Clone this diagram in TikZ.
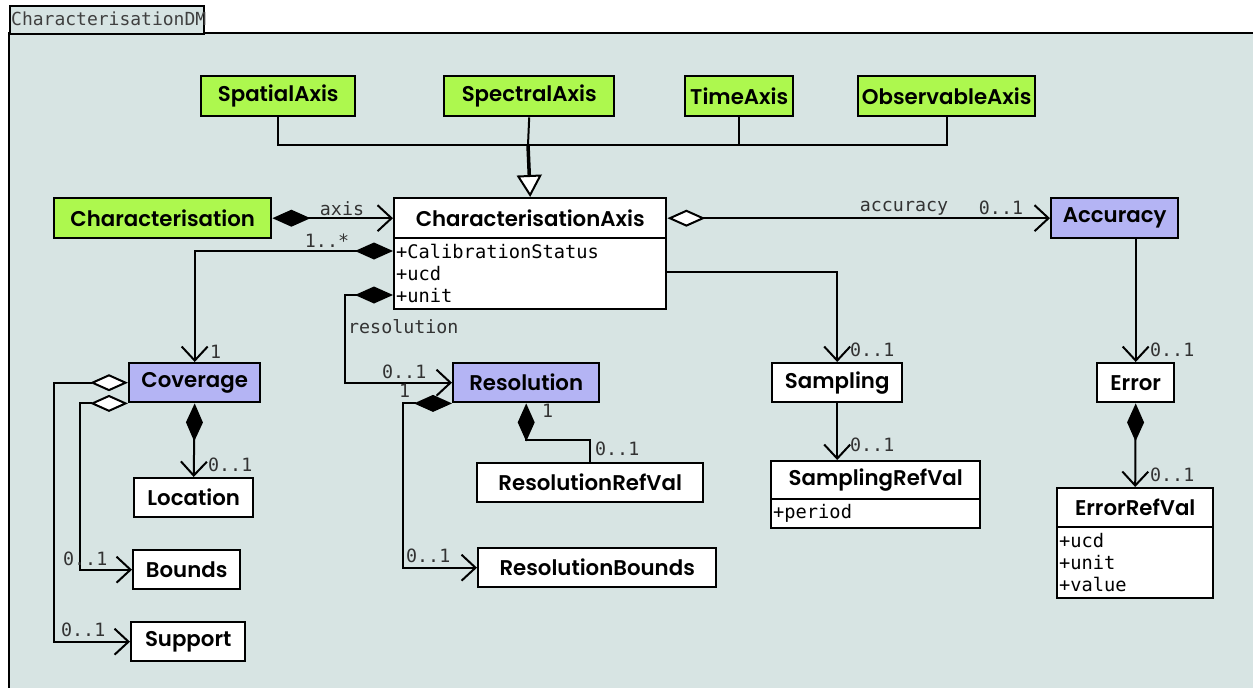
\documentclass[tikz,border=0pt]{standalone}
\usepackage{fontspec}
\usetikzlibrary{arrows.meta}
\IfFontExistsTF{Poppins SemiBold}{\newfontfamily\clsfont{Poppins SemiBold}}{\IfFontExistsTF{Poppins Medium}{\newfontfamily\clsfont{Poppins Medium}}{\newfontfamily\clsfont{Poppins}}}
\newfontfamily\monofnt{DejaVu Sans Mono}
\definecolor{bgc}{HTML}{D7E4E3}
\definecolor{limec}{HTML}{ADF84E}
\definecolor{lavc}{HTML}{B4B4F4}
\tikzset{
  cls/.style={draw, line width=2.4pt, fill=white, inner sep=0pt, anchor=north west,
    font=\clsfont\fontsize{21.3}{25}\selectfont},
  grn/.style={cls, fill=limec},
  lav/.style={cls, fill=lavc},
  attrbox/.style={draw, line width=2.4pt, fill=white, anchor=north west, inner xsep=2pt, inner ysep=0pt,
    align=left, font=\monofnt\fontsize{18.7}{22}\selectfont},
  lbl/.style={inner sep=0pt, text=black!80, font=\monofnt\fontsize{18.3}{20}\selectfont},
  conn/.style={line width=2pt},
  nav/.style={conn, -{Straight Barb[length=14pt,width=26pt]}},
  comp/.style={conn, {Kite[length=38pt,width=17pt,inset=19pt]}-{Straight Barb[length=14pt,width=26pt]}},
  compn/.style={conn, {Kite[length=38pt,width=17pt,inset=19pt]}-},
  aggr/.style={conn, {Kite[fill=white,length=38pt,width=17pt,inset=19pt]}-{Straight Barb[length=14pt,width=26pt]}},
}
\begin{document}
\begin{tikzpicture}[x=1pt,y=-1pt]
\useasboundingbox (0,0) rectangle (1253,688);
\fill[white] (0,0) rectangle (1253,688);
\fill[bgc] (9,33) rectangle (1253,688);
\draw[line width=2.5pt] (9,690) -- (9,33) -- (1255,33);
\node[draw, line width=2pt, fill=bgc, anchor=north west, minimum width=194pt, minimum height=28pt, inner sep=0pt] (tab) at (9,5) {};
\node[lbl, anchor=west, text=black!75, font=\monofnt\fontsize{18}{20}\selectfont] (tabtitle) at (11,19) {CharacterisationDM};

% axis classes
\node[grn, minimum width=154pt, minimum height=40pt] (spatial) at (200,75) {SpatialAxis};
\node[grn, minimum width=170pt, minimum height=40pt] (spectral) at (443,75) {SpectralAxis};
\node[grn, minimum width=108pt, minimum height=40pt] (time) at (684,75) {TimeAxis};
\node[grn, minimum width=177pt, minimum height=40pt] (observ) at (857,75) {ObservableAxis};

% main row
\node[grn, minimum width=217pt, minimum height=40pt] (charac) at (53,197) {Characterisation};
\node[cls, minimum width=272pt, minimum height=40pt] (ca) at (393,197) {CharacterisationAxis};
\node[attrbox, text width=268pt, minimum height=71pt] (caattr) at (393,237) {+CalibrationStatus\\+ucd\\+unit};
\node[lav, minimum width=127pt, minimum height=40pt] (acc) at (1050,197) {Accuracy};

% lower classes
\node[lav, minimum width=131pt, minimum height=39pt] (cov) at (128,362) {Coverage};
\node[cls, minimum width=119pt, minimum height=39pt] (loc) at (133,477) {Location};
\node[cls, minimum width=107pt, minimum height=39pt] (bounds) at (132,549) {Bounds};
\node[cls, minimum width=114pt, minimum height=39pt] (supp) at (130,621) {Support};
\node[lav, minimum width=146pt, minimum height=39pt] (res) at (452,362) {Resolution};
\node[cls, minimum width=226pt, minimum height=39pt] (rr) at (476,462) {ResolutionRefVal};
\node[cls, minimum width=238pt, minimum height=39pt] (rb) at (477,547) {ResolutionBounds};
\node[cls, minimum width=130pt, minimum height=39pt] (samp) at (771,362) {Sampling};
\node[cls, minimum width=209pt, minimum height=38pt] (sr) at (770,460) {SamplingRefVal};
\node[attrbox, text width=205pt, minimum height=29pt] (srattr) at (770,498) {+period};
\node[cls, minimum width=77pt, minimum height=39pt] (err) at (1096,362) {Error};
\node[cls, minimum width=156pt, minimum height=39pt] (er) at (1056,487) {ErrorRefVal};
\node[attrbox, text width=152pt, minimum height=71pt] (erattr) at (1056,526) {+ucd\\+unit\\+value};

% generalisation
\coordinate (bus) at (528,145);
\draw[conn] (spatial.south) |- (bus);
\draw[conn] (observ.south) |- (bus);
\draw[conn] (time.south) -- (time.south |- bus);
\draw[conn] (spectral.south) -- (bus);
\draw[line width=3.5pt, -{Triangle[open, fill=white, line width=2pt, length=22pt, width=25pt]}] (bus) -- (ca.north);

% associations
\draw[comp] (charac.east) -- (ca.west);
\node[lbl] (laxis) at (342,209) {axis};
\draw[aggr] (ca.east) -- (acc.west);
\node[lbl] (lacc) at (904,208) {accuracy};
\node[lbl] (lacc2) at (1001,208) {0..1};

\draw[comp] ([yshift=-14pt]caattr.north west) -| (cov.north);
\node[lbl] (lcovm) at (327,241) {1..*};
\node[lbl, anchor=west] (lcov1) at (210,352) {1};

\draw[comp] ([yshift=-58pt]caattr.north west) -| ([xshift=-107pt]res.west) -- (res.west);
\node[lbl, anchor=west] (lres) at (348,327) {resolution};
\node[lbl, anchor=west] (lres01) at (382,372) {0..1};

\draw[nav] ([yshift=-35pt]caattr.north east) -| (samp.north);
\node[lbl, anchor=west] (lsamp) at (850,350) {0..1};
\draw[nav] (samp.south) -- (samp.south |- sr.north);
\node[lbl, anchor=west] (lsr) at (850,445) {0..1};

\draw[nav] (err.north |- acc.south) -- (err.north);
\node[lbl, anchor=west] (lerr) at (1150,350) {0..1};
\draw[comp] (err.south) -- (er.north);
\node[lbl, anchor=west] (ler) at (1150,475) {0..1};

\draw[comp] (cov.south) -- (loc.north);
\node[lbl, anchor=west] (lloc) at (208,465) {0..1};
\draw[aggr] (cov.south west) -| ([xshift=-52pt]bounds.west) -- (bounds.west);
\node[lbl, anchor=west] (lbnd) at (63,559) {0..1};
\draw[aggr] (cov.west) -| ([xshift=-76pt]supp.west) -- (supp.west);
\node[lbl, anchor=west] (lsup) at (61,630) {0..1};

\draw[comp] (res.south west) -| ([xshift=-74pt]rb.west) -- (rb.west);
\node[lbl, anchor=west] (lres1) at (399,391) {1};
\node[lbl, anchor=west] (lrb) at (406,556) {0..1};
\draw[compn] (res.south) |- ([yshift=22pt]rr.north) -- (rr.north);
\node[lbl, anchor=west] (lrr1) at (542,411) {1};
\node[lbl, anchor=west] (lrr) at (595,449) {0..1};
\end{tikzpicture}
\end{document}
